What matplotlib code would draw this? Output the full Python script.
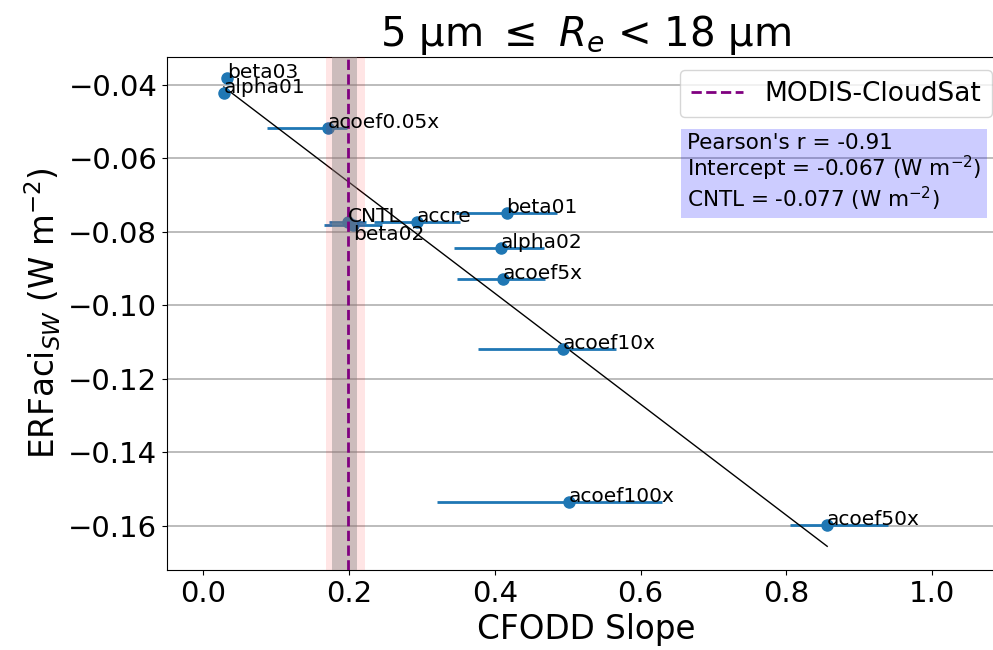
import matplotlib
matplotlib.use("Agg")
import matplotlib.pyplot as plt
import numpy as np

labels = ['beta03', 'alpha01', 'acoef0.05x', 'CNTL', 'beta02', 'accre',
          'beta01', 'alpha02', 'acoef5x', 'acoef10x', 'acoef100x', 'acoef50x']
cfodd_slope = [0.0325, 0.028, 0.171, 0.198, 0.205, 0.293,
               0.416, 0.408, 0.411, 0.493, 0.501, 0.856]
erfaci_sw = [-0.0381, -0.0422, -0.0517, -0.0773, -0.0781, -0.0773,
             -0.0748, -0.0844, -0.0928, -0.1118, -0.1535, -0.1597]
xerr_low = [0.0, 0.0, 0.084, 0.025, 0.040, 0.059,
            0.069, 0.064, 0.063, 0.116, 0.181, 0.051]
xerr_high = [0.0, 0.0, 0.026, 0.025, 0.040, 0.059,
             0.069, 0.060, 0.058, 0.073, 0.128, 0.084]

obs_slope = 0.199
obs_band_narrow = (0.176, 0.211)
obs_band_wide = (0.168, 0.222)

stats_text = ("Pearson's r = -0.91\n"
              "Intercept = -0.067 (W m$^{-2}$)\n"
              "CNTL = -0.077 (W m$^{-2}$)")

fig = plt.figure(figsize=(9.93, 6.5), dpi=100)
ax = fig.add_axes([167 / 993, 80 / 650, (1005 - 167) / 993, (570 - 57) / 650])

x = np.array(cfodd_slope)
y = np.array(erfaci_sw)

ax.errorbar(x, y, xerr=[xerr_low, xerr_high], fmt='o', color='tab:blue',
            markersize=8, elinewidth=2, zorder=3)
for lab, xi, yi in zip(labels, x, y):
    # beta02 sits right under CNTL, so hang its label below the point
    va = 'top' if lab == 'beta02' else 'baseline'
    ax.text(xi, yi, lab, fontsize=14.5, va=va, zorder=7)

# linear fit across the experiments
coef = np.polyfit(x, y, 1)
xx = np.array([x.min(), x.max()])
ax.plot(xx, np.polyval(coef, xx), color='black', linewidth=1, zorder=3)

ax.axvspan(*obs_band_wide, color='red', alpha=0.1, linewidth=0, zorder=5)
ax.axvspan(*obs_band_narrow, color='grey', alpha=0.4, linewidth=0, zorder=5)
ax.axvline(obs_slope, color='purple', linestyle='--', linewidth=2,
           label='MODIS-CloudSat', zorder=6)

ax.text(0.6205, 0.852, stats_text, transform=ax.transAxes, fontsize=15.5,
        va='top', ha='left', zorder=8, linespacing=1.05,
        bbox=dict(facecolor='blue', alpha=0.2, edgecolor='none'))

ax.set_xlim(-0.05, 1.1)
ax.set_ylim(-0.172, -0.0324)
ax.set_xticks([0.0, 0.2, 0.4, 0.6, 0.8, 1.0])
ax.set_yticks([-0.16, -0.14, -0.12, -0.10, -0.08, -0.06, -0.04])
ax.tick_params(labelsize=21)
ax.grid(axis='y', linewidth=1.2)
ax.set_axisbelow(True)

ax.set_xlabel('CFODD Slope', fontsize=23.5)
ax.set_ylabel('ERFaci$_{SW}$ (W m$^{-2}$)', fontsize=23.5)
ax.set_title('5 μm $\\leq$ $R_e$ < 18 μm', fontsize=29)
ax.legend(loc='upper right', fontsize=19)

fig.savefig('out.png', dpi=100)
